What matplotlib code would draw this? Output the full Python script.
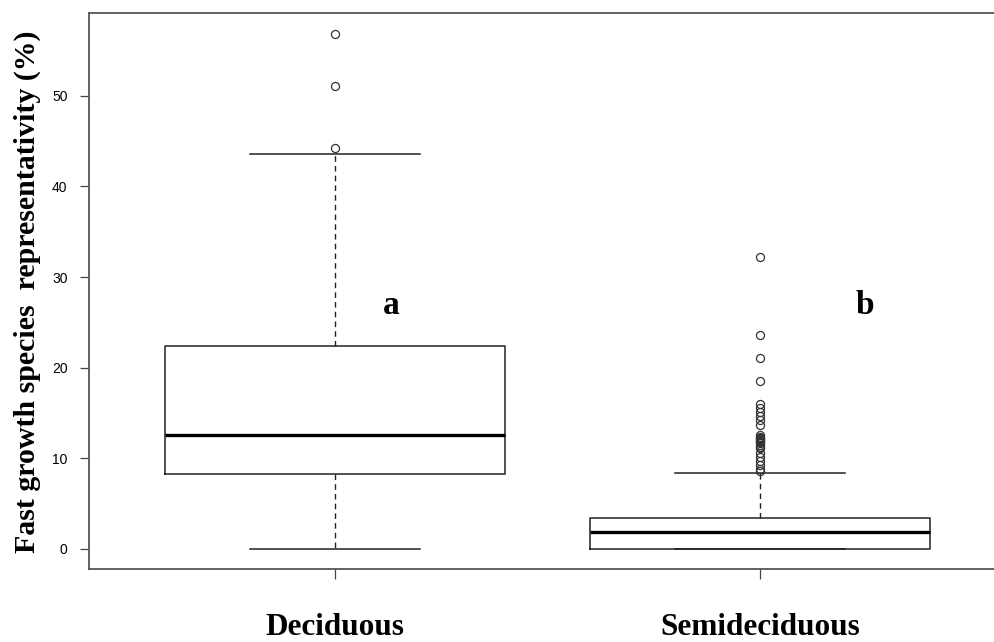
import numpy as np
import matplotlib
matplotlib.use("Agg")
import matplotlib.pyplot as plt

# Forest types and their summary statistics (fast growth species representativity, %)
groups = ["Deciduous", "Semideciduous"]
medians = [12.6, 1.9]
q1_vals = [8.3, 0.0]
q3_vals = [22.4, 3.4]
whisker_low = [0.0, 0.0]
whisker_high = [43.6, 8.4]
outliers_deciduous = [44.2, 51.1, 56.8]
outliers_semideciduous = [32.2, 23.6, 21.1, 18.5, 16.0, 15.6, 15.1, 14.7, 14.2, 13.7,
                          12.6, 12.4, 12.3, 12.2, 12.1, 12.0, 11.9, 11.8, 11.7, 11.5,
                          11.3, 11.1, 10.6, 10.2, 9.7, 9.3, 8.8, 8.6]
group_letters = ["a", "b"]
letter_height = 25.9
y_ticks = [0, 10, 20, 30, 40, 50]

serif = ["Liberation Serif", "DejaVu Serif"]
sans = ["Liberation Sans", "DejaVu Sans"]

fig = plt.figure(figsize=(9.94, 6.42), dpi=100)
ax = fig.add_axes([89 / 994, 72.7 / 642, (1006 - 89) / 994, (569.3 - 13.3) / 642])

stats = []
for name, med, q1, q3, lo, hi, fl in zip(groups, medians, q1_vals, q3_vals,
                                          whisker_low, whisker_high,
                                          [outliers_deciduous, outliers_semideciduous]):
    stats.append(dict(label=name, med=med, q1=q1, q3=q3, whislo=lo, whishi=hi,
                      fliers=np.array(fl)))

line_col = "#222222"
ax.bxp(stats, positions=[1, 2], widths=0.8, capwidths=0.4, showfliers=True,
       boxprops=dict(color=line_col, linewidth=1.1),
       medianprops=dict(color="black", linewidth=2.4),
       whiskerprops=dict(color=line_col, linewidth=1.0, linestyle=(0, (4, 3))),
       capprops=dict(color=line_col, linewidth=1.1),
       flierprops=dict(marker="o", markersize=5.8, markerfacecolor="none",
                       markeredgecolor="#333333", markeredgewidth=0.9))

for pos, letter in zip([1.133, 2.247], group_letters):
    ax.text(pos, letter_height, letter, ha="center", va="baseline",
            fontsize=24, fontweight="bold", family=serif)

ax.set_xlim(0.42, 2.58)
ax.set_ylim(-2.24, 59.1)
ax.set_yticks(y_ticks)
ax.set_yticklabels([str(t) for t in y_ticks], family=sans, fontsize=10)
ax.set_xticks([1, 2])
ax.set_xticklabels(groups, family=serif, fontsize=22.5, fontweight="bold")
ax.tick_params(axis="y", length=6.5, width=0.9, color="#444444", pad=9)
ax.tick_params(axis="x", length=7.5, width=0.9, color="#444444", pad=24)

for sp in ax.spines.values():
    sp.set_color("#555555")
    sp.set_linewidth(1.3)

fig.text(27 / 994, 1 - 291.5 / 642, "Fast growth species  representativity (%)",
         rotation=90, ha="center", va="center", fontsize=21.5,
         fontweight="bold", family=serif)

fig.savefig("out.png", dpi=100)
